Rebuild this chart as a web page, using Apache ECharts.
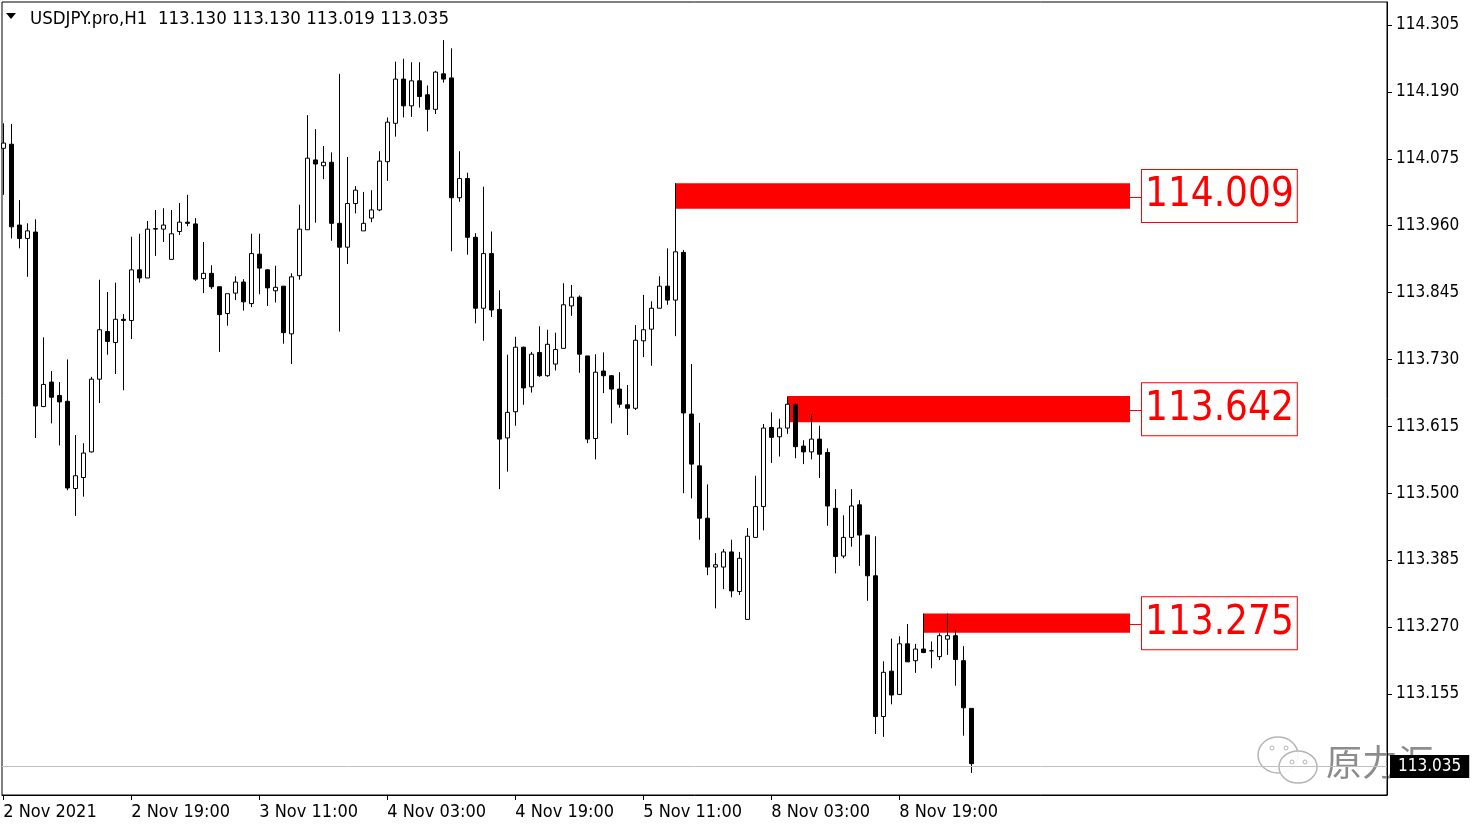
<!DOCTYPE html>
<html><head><meta charset="utf-8">
<script src="https://cdn.jsdelivr.net/npm/echarts@6/dist/echarts.min.js"></script>
<style>html,body{margin:0;padding:0;background:#fff}#c{width:1479px;height:828px}</style>
</head><body><div id="c"></div>
<script>
const symbolTitle = 'USDJPY.pro,H1';
const lastOHLC = ['113.130', '113.130', '113.019', '113.035'];
const xTickIndex = [0, 16, 32, 48, 64, 80, 96, 112];
const xTickLabels = ['2 Nov 2021', '2 Nov 19:00', '3 Nov 11:00', '4 Nov 03:00', '4 Nov 19:00', '5 Nov 11:00', '8 Nov 03:00', '8 Nov 19:00'];
const yTicks = [114.305, 114.190, 114.075, 113.960, 113.845, 113.730, 113.615, 113.500, 113.385, 113.270, 113.155];

const opens = [114.093,114.100,113.961,113.938,113.949,113.649,113.691,113.668,113.658,113.508,113.527,113.571,113.696,113.778,113.759,113.799,113.797,113.884,113.870,113.954,113.954,113.902,113.950,113.966,113.963,113.869,113.878,113.855,113.809,113.844,113.863,113.826,113.911,113.884,113.848,113.856,113.774,113.874,113.953,114.073,114.063,114.069,113.964,113.923,113.998,113.951,113.973,113.987,114.070,114.136,114.212,114.166,114.209,114.185,114.160,114.221,114.214,114.008,114.041,113.940,113.818,113.912,113.816,113.595,113.640,113.751,113.683,113.742,113.702,113.722,113.749,113.822,113.837,113.736,113.594,113.710,113.702,113.679,113.652,113.646,113.762,113.782,113.818,113.856,113.832,113.914,113.636,113.547,113.457,113.373,113.373,113.399,113.331,113.283,113.424,113.477,113.613,113.597,113.612,113.652,113.581,113.571,113.593,113.570,113.474,113.392,113.424,113.480,113.428,113.358,113.116,113.194,113.154,113.241,113.212,113.232,113.229,113.219,113.249,113.255,113.212,113.130];
const highs = [114.136,114.135,114.004,113.964,113.971,113.768,113.710,113.691,113.730,113.600,113.586,113.700,113.867,113.846,113.862,113.808,113.941,113.946,113.968,113.987,113.990,113.987,113.999,114.013,113.973,113.932,113.892,113.855,113.843,113.873,113.868,113.946,113.946,113.885,113.891,113.856,113.878,113.996,114.150,114.126,114.097,114.086,114.221,114.078,114.028,114.018,114.021,114.088,114.146,114.242,114.247,114.241,114.241,114.201,114.226,114.279,114.265,114.088,114.051,113.947,114.027,113.950,113.849,113.738,113.769,113.752,113.743,113.787,113.781,113.776,113.861,113.858,113.840,113.736,113.739,113.742,113.703,113.708,113.686,113.789,113.841,113.830,113.873,113.921,114.033,113.918,113.722,113.621,113.515,113.397,113.404,113.420,113.399,113.440,113.530,113.619,113.639,113.628,113.666,113.655,113.591,113.636,113.616,113.577,113.507,113.462,113.507,113.488,113.428,113.426,113.211,113.250,113.254,113.275,113.241,113.293,113.245,113.259,113.293,113.265,113.237,113.130];
const lows = [114.013,113.938,113.921,113.872,113.595,113.648,113.620,113.582,113.505,113.461,113.494,113.570,113.655,113.738,113.705,113.677,113.765,113.862,113.870,113.908,113.932,113.902,113.944,113.959,113.865,113.844,113.851,113.743,113.788,113.832,113.814,113.820,113.842,113.822,113.828,113.757,113.722,113.867,113.953,113.965,114.040,113.934,113.778,113.894,113.981,113.951,113.966,113.985,114.037,114.113,114.146,114.147,114.163,114.122,114.152,114.206,113.916,114.001,113.910,113.792,113.762,113.803,113.507,113.537,113.616,113.652,113.673,113.700,113.700,113.711,113.749,113.805,113.707,113.586,113.558,113.672,113.620,113.647,113.600,113.643,113.734,113.719,113.818,113.824,113.770,113.500,113.491,113.420,113.359,113.302,113.335,113.321,113.325,113.283,113.424,113.436,113.552,113.563,113.602,113.560,113.550,113.558,113.526,113.444,113.362,113.388,113.408,113.375,113.315,113.086,113.081,113.137,113.153,113.210,113.191,113.225,113.199,113.213,113.222,113.169,113.083,113.019];
const closes = [114.102,113.958,113.938,113.951,113.650,113.687,113.665,113.657,113.509,113.530,113.569,113.696,113.781,113.761,113.799,113.797,113.884,113.870,113.954,113.955,113.961,113.946,113.966,113.964,113.868,113.878,113.855,113.807,113.843,113.863,113.829,113.912,113.887,113.853,113.854,113.776,113.872,113.954,114.076,114.066,114.069,113.964,113.923,113.998,114.021,113.964,113.987,114.071,114.138,114.212,114.166,114.209,114.182,114.160,114.224,114.212,114.008,114.041,113.940,113.818,113.912,113.815,113.593,113.639,113.751,113.681,113.739,113.702,113.756,113.747,113.824,113.837,113.739,113.593,113.708,113.702,113.679,113.653,113.646,113.763,113.781,113.818,113.856,113.832,113.915,113.638,113.550,113.457,113.373,113.377,113.399,113.332,113.388,113.426,113.477,113.612,113.596,113.612,113.653,113.580,113.571,113.593,113.567,113.478,113.391,113.424,113.478,113.428,113.358,113.116,113.192,113.153,113.241,113.210,113.232,113.226,113.229,113.255,113.255,113.214,113.131,113.035];

const zoneStart = [84, 98, 115];
const zoneHigh = [114.033, 113.667, 113.293];
const zoneLow = [113.989, 113.622, 113.260];
const zoneLabel = [114.009, 113.642, 113.275];
const zoneEnd = 140.84;
const currentPrice = 113.035;
const watermark = '原力汇';

const FONT = '"DejaVu Sans Condensed", "DejaVu Sans", sans-serif';
const candles = opens.map((o, i) => [i, o, closes[i], lows[i], highs[i]]);

const chart = echarts.init(document.getElementById('c'), null, {renderer: 'canvas'});
chart.setOption({
  animation: false,
  backgroundColor: '#fff',
  title: {
    text: symbolTitle + '  ' + lastOHLC.join(' '),
    left: 30, top: 10, padding: 0,
    textStyle: {fontSize: 18.5, fontWeight: 'normal', color: '#000', fontFamily: FONT}
  },
  grid: {left: 2, right: 92, top: 2, bottom: 33, show: true, borderColor: '#000', borderWidth: 1, backgroundColor: '#fff'},
  xAxis: {
    type: 'value', min: -0.1625, max: 172.9625,
    splitLine: {show: false},
    axisLine: {show: true, onZero: false, lineStyle: {color: '#000', width: 1}},
    axisTick: {show: true, customValues: xTickIndex, length: 5, lineStyle: {color: '#000'}},
    axisLabel: {
      customValues: xTickIndex, align: 'left', margin: 8, fontSize: 18, color: '#000', fontFamily: FONT,
      formatter: v => xTickLabels[xTickIndex.indexOf(Math.round(v))] || ''
    }
  },
  yAxis: {
    type: 'value', position: 'right', scale: true,
    min: 112.98107, max: 114.34455,
    splitLine: {show: false},
    axisLine: {show: true, onZero: false, lineStyle: {color: '#000', width: 1}},
    axisTick: {show: true, customValues: yTicks, length: 5, lineStyle: {color: '#000'}},
    axisLabel: {customValues: yTicks, margin: 9, fontSize: 17, color: '#000', fontFamily: FONT, formatter: v => v.toFixed(3)}
  },
  series: [{
    type: 'candlestick',
    data: candles,
    barWidth: 4,
    itemStyle: {color: '#ffffff', color0: '#000000', borderColor: '#000000', borderColor0: '#000000', borderWidth: 1},
    markArea: {
      silent: true,
      itemStyle: {color: '#ff0000', opacity: 1},
      label: {
        show: true, position: 'right', distance: 12,
        color: '#ff0000', fontSize: 40, fontFamily: FONT, lineHeight: 46,
        backgroundColor: '#fff', borderColor: '#ff0000', borderWidth: 1, padding: [4, 3, 2, 3],
        formatter: p => p.name
      },
      data: zoneStart.map((s, i) => [
        {coord: [s, zoneHigh[i]], name: zoneLabel[i].toFixed(3)},
        {coord: [zoneEnd, zoneLow[i]]}
      ])
    },
    markLine: {
      silent: true,
      symbol: ['none', 'none'],
      data: [
        {
          yAxis: currentPrice,
          lineStyle: {color: '#c0c0c0', width: 1, type: 'solid'},
          label: {
            show: true, position: 'end', distance: 3,
            formatter: currentPrice.toFixed(3),
            backgroundColor: '#000', color: '#fff', fontSize: 17, fontFamily: FONT,
            padding: [3, 8, 3, 8]
          }
        }
      ].concat(zoneLabel.map(v => [
        {coord: [zoneEnd, v], lineStyle: {color: '#ff0000', width: 1, type: 'solid'}, label: {show: false}},
        {coord: [zoneEnd + 1.5, v]}
      ]))
    }
  }],
  graphic: [
    {type: 'polygon', shape: {points: [[6, 13], [16, 13], [11, 19]]}, style: {fill: '#000'}},
    {type: 'group', z: 100, silent: true, children: [
      {type: 'ellipse', shape: {cx: 1278, cy: 755, rx: 20, ry: 18}, style: {fill: 'rgba(255,255,255,0.85)', stroke: '#b5b5b5', lineWidth: 1.5}},
      {type: 'circle', shape: {cx: 1272, cy: 748, r: 2}, style: {fill: 'none', stroke: '#b5b5b5', lineWidth: 1}},
      {type: 'circle', shape: {cx: 1286, cy: 748, r: 2}, style: {fill: 'none', stroke: '#b5b5b5', lineWidth: 1}},
      {type: 'ellipse', shape: {cx: 1298, cy: 767, rx: 19, ry: 16}, style: {fill: 'rgba(255,255,255,0.9)', stroke: '#b5b5b5', lineWidth: 1.5}},
      {type: 'circle', shape: {cx: 1292, cy: 762, r: 2}, style: {fill: 'none', stroke: '#b5b5b5', lineWidth: 1}},
      {type: 'circle', shape: {cx: 1305, cy: 762, r: 2}, style: {fill: 'none', stroke: '#b5b5b5', lineWidth: 1}},
      {type: 'text', x: 1326, y: 762, style: {text: watermark, font: '36px "Noto Sans CJK SC", sans-serif', fill: 'rgba(120,120,120,0.85)', stroke: 'rgba(255,255,255,0.6)', lineWidth: 1, verticalAlign: 'middle', align: 'left'}}
    ]}
  ]
});
</script>
</body></html>
